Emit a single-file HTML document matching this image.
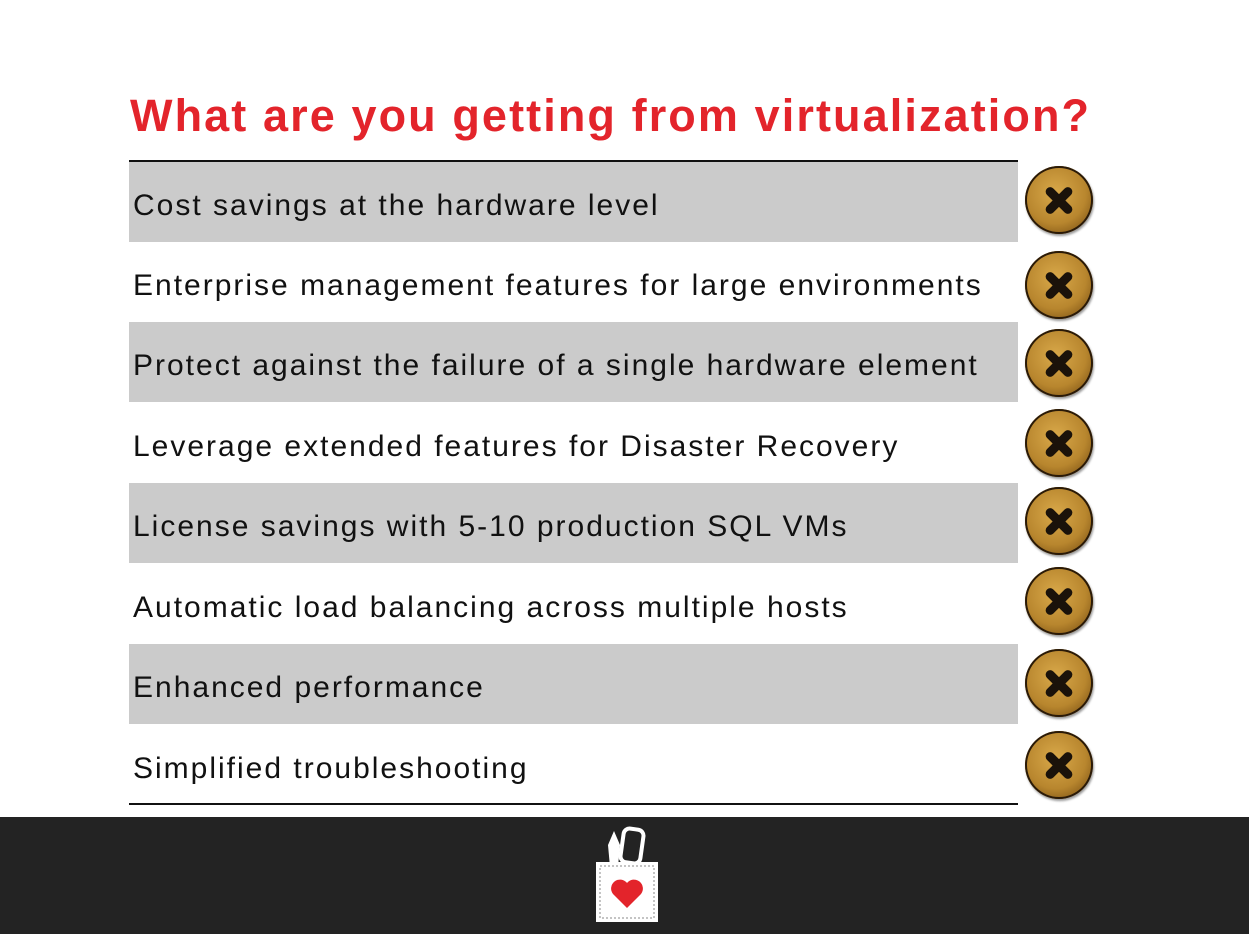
<!DOCTYPE html>
<html><head><style>
body{margin:0;width:1249px;height:934px;background:#fff;position:relative;overflow:hidden;font-family:"Liberation Sans",sans-serif}
h1{position:absolute;left:130px;top:90px;margin:0;font-size:45px;font-weight:bold;color:#e3242b;letter-spacing:2.1px;white-space:nowrap}
.line{position:absolute;left:129px;width:889px;height:2px;background:#111}
.row{position:absolute;left:129px;width:889px;height:80px;font-size:30px;color:#111;line-height:88px;padding-left:4px;box-sizing:border-box;white-space:nowrap;letter-spacing:2px}
.g{background:#cbcbcb}
.ic{position:absolute;left:1025px;width:68px;height:68px;border-radius:50%;background:radial-gradient(circle at 45% 40%,#d9a94a 0%,#b8862e 55%,#8a5e1a 80%,#5a3a10 100%);box-shadow:0 0 0 2px #2a1a08 inset,1px 2px 2px rgba(0,0,0,.4)}
.ic:before,.ic:after{content:"";position:absolute;left:17px;top:30px;width:34px;height:9px;background:#1a120a;border-radius:5px;transform:rotate(45deg)}
.ic:after{transform:rotate(-45deg)}
.foot{position:absolute;left:0;top:817px;width:1249px;height:117px;background:#232323}
</style></head><body>
<h1>What are you getting from virtualization?</h1>
<div class="line" style="top:160px"></div>
<div class="row g" style="top:162px">Cost savings at the hardware level</div>
<div class="row" style="top:242px">Enterprise management features for large environments</div>
<div class="row g" style="top:322px">Protect against the failure of a single hardware element</div>
<div class="row" style="top:403px">Leverage extended features for Disaster Recovery</div>
<div class="row g" style="top:483px">License savings with 5-10 production SQL VMs</div>
<div class="row" style="top:564px">Automatic load balancing across multiple hosts</div>
<div class="row g" style="top:644px">Enhanced performance</div>
<div class="row" style="top:725px">Simplified troubleshooting</div>
<div class="line" style="top:803px"></div>
<div class="ic" style="top:166px"></div>
<div class="ic" style="top:251px"></div>
<div class="ic" style="top:329px"></div>
<div class="ic" style="top:409px"></div>
<div class="ic" style="top:487px"></div>
<div class="ic" style="top:567px"></div>
<div class="ic" style="top:649px"></div>
<div class="ic" style="top:731px"></div>
<div class="foot">
<svg width="1249" height="117" style="position:absolute;left:0;top:0">
<polygon points="608,28 614,14 620,28 618,50 610,50" fill="#fff"/>
<rect x="622" y="12" width="20" height="34" rx="6" fill="none" stroke="#fff" stroke-width="4" transform="rotate(8 632 29)"/>
<rect x="596" y="45" width="62" height="60" fill="#fff"/>
<rect x="600" y="49" width="54" height="52" fill="none" stroke="#888" stroke-width="1" stroke-dasharray="2,2"/>
<path d="M627,91 L613,77 A8,8 0 0 1 627,66 A8,8 0 0 1 641,77 Z" fill="#e3242b"/>
</svg>
</div>
</body></html>
